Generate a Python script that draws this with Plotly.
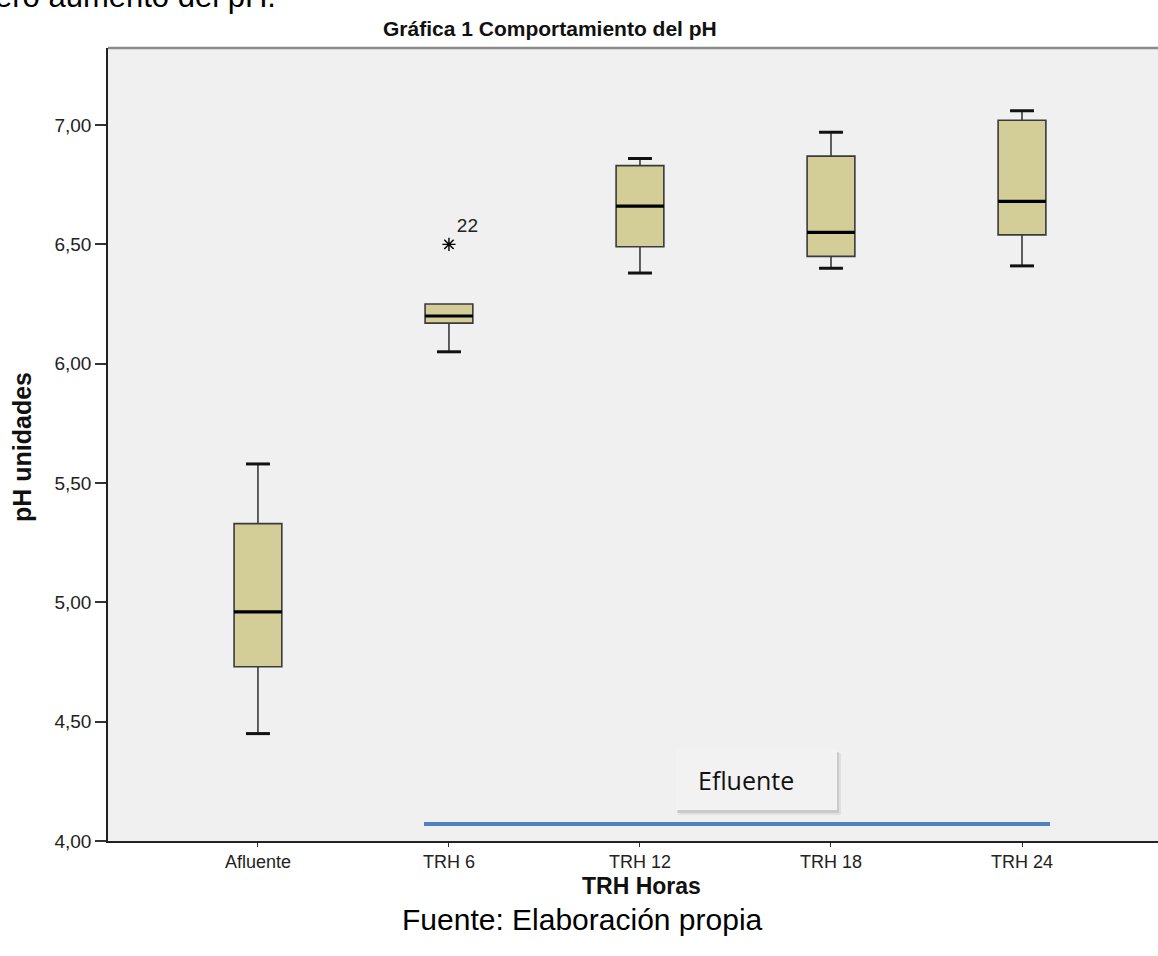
import plotly.graph_objects as go

# ---- data ----
categories = ["Afluente", "TRH 6", "TRH 12", "TRH 18", "TRH 24"]
lower_whisker = [4.45, 6.05, 6.38, 6.40, 6.41]
q1 = [4.73, 6.17, 6.49, 6.45, 6.54]
median = [4.96, 6.20, 6.66, 6.55, 6.68]
q3 = [5.33, 6.25, 6.83, 6.87, 7.02]
upper_whisker = [5.58, 6.25, 6.86, 6.97, 7.06]
outlier_cat = ["TRH 6"]
outlier_val = [6.50]
outlier_label = ["22"]
y_ticks = [4.0, 4.5, 5.0, 5.5, 6.0, 6.5, 7.0]

BOX_W = 0.25
CAP_HALF = 0.0625
FILL = "#D3CE98"
EDGE = "#3a3a3a"

# plot area in pixels
L, T, B, W, H = 108, 48, 841, 1158, 956
PW, PH = W - L, B - T


def px(x):
    return (x - L) / PW


def py(y):
    return (B - y) / PH


xs = list(range(len(categories)))
fig = go.Figure()

fig.add_trace(go.Box(
    x=xs, q1=q1, median=median, q3=q3,
    lowerfence=lower_whisker, upperfence=upper_whisker,
    width=BOX_W, whiskerwidth=0.5, fillcolor=FILL,
    line=dict(color=EDGE, width=1.6), boxpoints=False,
    showlegend=False, hoverinfo="skip",
))

# thick median lines and whisker caps
for i in xs:
    fig.add_trace(go.Scatter(
        x=[i - BOX_W / 2, i + BOX_W / 2], y=[median[i], median[i]],
        mode="lines", line=dict(color="black", width=3.2),
        showlegend=False, hoverinfo="skip"))
    for v in (lower_whisker[i], upper_whisker[i]):
        if v == q3[i] or v == q1[i]:
            continue
        fig.add_trace(go.Scatter(
            x=[i - CAP_HALF, i + CAP_HALF], y=[v, v],
            mode="lines", line=dict(color="#111", width=3),
            showlegend=False, hoverinfo="skip"))

# outlier
ox = [categories.index(c) for c in outlier_cat]
fig.add_trace(go.Scatter(
    x=ox, y=outlier_val, mode="markers+text",
    marker=dict(symbol="asterisk-open", size=11, color="black",
                line=dict(color="black", width=1.4)),
    text=outlier_label, textposition="top right",
    textfont=dict(family="Liberation Sans, Arial", size=19, color="#222"),
    showlegend=False, hoverinfo="skip"))

fig.update_layout(
    width=W, height=H,
    margin=dict(l=L, r=0, t=T, b=H - B),
    paper_bgcolor="white", plot_bgcolor="#F0F0F0",
    separators=",.",
    font=dict(family="Liberation Sans, Arial", color="#222"),
    xaxis=dict(range=[-0.785, 4.712], tickvals=xs, ticktext=categories,
               showgrid=False, zeroline=False, showline=True,
               linecolor="#222", linewidth=1.6,
               ticks="outside", ticklen=4, tickcolor="#333", tickwidth=1.3,
               tickfont=dict(size=18, color="#222")),
    yaxis=dict(range=[4.0, 7.323], tickvals=y_ticks, tickformat=".2f",
               showgrid=False, zeroline=False, showline=True,
               linecolor="#222", linewidth=1.6,
               ticks="outside", ticklen=11, tickcolor="#333", tickwidth=2,
               tickfont=dict(size=19, color="#222")),
    shapes=[
        # top frame line
        dict(type="line", xref="paper", yref="paper", x0=0, x1=1, y0=1, y1=1,
             line=dict(color="#8a8a8a", width=2.5)),
        # blue decorative line
        dict(type="line", xref="paper", yref="paper",
             x0=px(424), x1=px(1050), y0=py(824), y1=py(824),
             line=dict(color="#4F81BD", width=4)),
        # Efluente box with soft shadow
        dict(type="rect", xref="paper", yref="paper",
             x0=px(678), x1=px(841), y0=py(815), y1=py(753),
             line=dict(width=0), fillcolor="rgba(0,0,0,0.06)", layer="above"),
        dict(type="rect", xref="paper", yref="paper",
             x0=px(677), x1=px(839), y0=py(813), y1=py(752),
             line=dict(width=0), fillcolor="rgba(0,0,0,0.10)", layer="above"),
        dict(type="rect", xref="paper", yref="paper",
             x0=px(676), x1=px(837), y0=py(810), y1=py(750),
             line=dict(width=0), fillcolor="#F2F2F2", layer="above"),
    ],
    annotations=[
        dict(text="<b>Gráfica 1 Comportamiento del pH</b>", xref="paper", yref="paper",
             x=px(550), y=py(29), xanchor="center", yanchor="middle",
             showarrow=False, font=dict(size=21, color="#111",
                                         family="Liberation Sans, Arial")),
        dict(text="ligero aumento del pH.", xref="paper", yref="paper",
             x=px(278), y=py(-3), xanchor="right", yanchor="middle",
             showarrow=False, font=dict(size=31, color="#000",
                                         family="Liberation Sans, Arial")),
        dict(text="<b>pH unidades</b>", xref="paper", yref="paper",
             x=px(22), y=py(447), textangle=-90,
             xanchor="center", yanchor="middle", showarrow=False,
             font=dict(size=25, color="#111")),
        dict(text="<b>TRH Horas</b>", xref="paper", yref="paper",
             x=px(641), y=py(886),
             xanchor="center", yanchor="middle", showarrow=False,
             font=dict(size=23, color="#111")),
        dict(text="Fuente: Elaboración propia", xref="paper", yref="paper",
             x=px(582), y=py(920),
             xanchor="center", yanchor="middle", showarrow=False,
             font=dict(size=30, color="#000")),
        dict(text="Efluente", xref="paper", yref="paper",
             x=px(696), y=py(780),
             xanchor="left", yanchor="middle", showarrow=False,
             font=dict(size=25, color="#111", family="Open Sans, Liberation Sans")),
    ],
)

fig.write_html("out.html", config={"displayModeBar": False},
               post_script="document.body.style.margin='0';")
